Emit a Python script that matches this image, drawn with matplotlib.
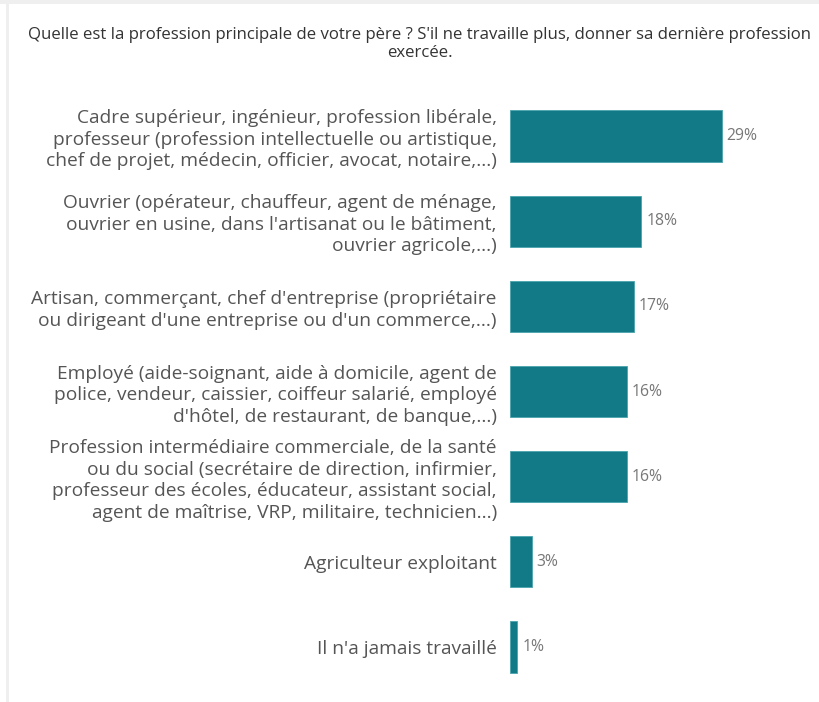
import matplotlib
matplotlib.use("Agg")
import matplotlib.pyplot as plt
from matplotlib.patches import Rectangle

plt.rcParams['font.family'] = ['Open Sans', 'DejaVu Sans']

title = "Quelle est la profession principale de votre père ? S'il ne travaille plus, donner sa dernière profession\nexercée."

categories = [
    "Cadre supérieur, ingénieur, profession libérale,\nprofesseur (profession intellectuelle ou artistique,\nchef de projet, médecin, officier, avocat, notaire,...)",
    "Ouvrier (opérateur, chauffeur, agent de ménage,\nouvrier en usine, dans l'artisanat ou le bâtiment,\nouvrier agricole,...)",
    "Artisan, commerçant, chef d'entreprise (propriétaire\nou dirigeant d'une entreprise ou d'un commerce,...)",
    "Employé (aide-soignant, aide à domicile, agent de\npolice, vendeur, caissier, coiffeur salarié, employé\nd'hôtel, de restaurant, de banque,...)",
    "Profession intermédiaire commerciale, de la santé\nou du social (secrétaire de direction, infirmier,\nprofesseur des écoles, éducateur, assistant social,\nagent de maîtrise, VRP, militaire, technicien...)",
    "Agriculteur exploitant",
    "Il n'a jamais travaillé",
]
values = [29, 18, 17, 16, 16, 3, 1]
value_labels = ["29%", "18%", "17%", "16%", "16%", "3%", "1%"]

W, H = 820, 702
fig = plt.figure(figsize=(W / 100, H / 100), dpi=100)
fig.patch.set_facecolor('white')

# light frame
fig.patches.append(Rectangle((0, (H - 4) / H), 1, 4 / H, transform=fig.transFigure,
                             facecolor='#efefef', edgecolor='none', zorder=0))
fig.patches.append(Rectangle((6 / W, 0), 3 / W, (H - 4) / H, transform=fig.transFigure,
                             facecolor='#efefef', edgecolor='none', zorder=0))

ax_left, ax_right = 510 / W, 802 / W
ax_top = (H - 93.4) / H
ax_bot = (H - 689.6) / H
ax = fig.add_axes([ax_left, ax_bot, ax_right - ax_left, ax_top - ax_bot])

ypos = list(range(len(categories)))
ax.barh(ypos, values, height=0.6, color='#117a86', edgecolor='#4aa3ad', linewidth=0.6)
ax.set_xlim(0, 40)
ax.set_ylim(len(categories) - 0.5, -0.5)

ax.set_yticks(ypos)
ax.set_yticklabels(categories, fontsize=13.8, color='#555555', linespacing=1.25)
for t in ax.get_yticklabels():
    t.set_multialignment('right')
ax.tick_params(axis='y', length=0, pad=9.5)
ax.set_xticks([])
for s in ax.spines.values():
    s.set_visible(False)

for y, v, lab in zip(ypos, values, value_labels):
    ax.annotate(lab, (v, y), xytext=(3.5, 0), textcoords='offset points',
                va='center', ha='left', fontsize=11.3, color='#777777')

fig.text(419.5 / W, (H - 44) / H, title, ha='center', va='center',
         fontsize=12.1, color='#333333', linespacing=1.2)

fig.savefig('out.png', dpi=100, facecolor='white')
